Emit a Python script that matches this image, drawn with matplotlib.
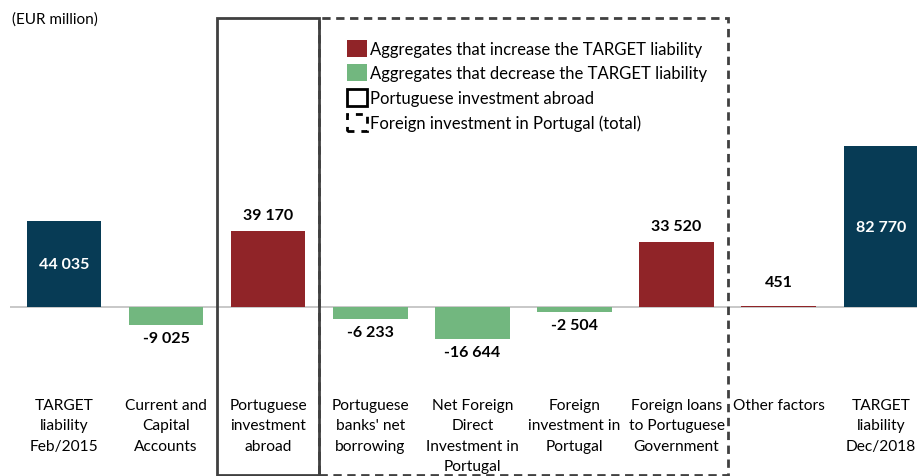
import matplotlib
matplotlib.use("Agg")
import matplotlib.pyplot as plt
from matplotlib.patches import Rectangle, Patch

plt.rcParams['font.family'] = ['Lato', 'DejaVu Sans']

categories = ["TARGET\nliability\nFeb/2015", "Current and\nCapital\nAccounts",
              "Portuguese\ninvestment\nabroad", "Portuguese\nbanks' net\nborrowing",
              "Net Foreign\nDirect\nInvestment in\nPortugal", "Foreign\ninvestment in\nPortugal",
              "Foreign loans\nto Portuguese\nGovernment", "Other factors",
              "TARGET\nliability\nDec/2018"]
values = [44035, -9025, 39170, -6233, -16644, -2504, 33520, 451, 82770]
labels = ["44 035", "-9 025", "39 170", "-6 233", "-16 644", "-2 504", "33 520", "451", "82 770"]
kinds = ["total", "dec", "inc", "dec", "dec", "dec", "inc", "inc", "total"]

colors = {"total": "#073B55", "inc": "#902428", "dec": "#72B77F"}

W, H = 917, 477
fig = plt.figure(figsize=(W / 100, H / 100), dpi=100)
ax = fig.add_axes([0, 0, 1, 1])
ax.axis('off')

# pixel mapping
px_per_cat = 102.1
x0_px = 64
zero_px = 308
px_per_unit = 1.945 / 1000
xl = -x0_px / px_per_cat
xr = 8 + (W - (x0_px + 8 * px_per_cat)) / px_per_cat
yb = -(H - zero_px) / px_per_unit
yt = zero_px / px_per_unit
ax.set_xlim(xl, xr)
ax.set_ylim(yb, yt)

def ypx(p):  # pixel from top -> data
    return (zero_px - p) / px_per_unit

x = list(range(len(categories)))
ax.bar(x, values, width=0.73, color=[colors[k] for k in kinds], zorder=2)
ax.hlines(0, -0.53, xr, color="#BFBFBF", lw=1.2, zorder=1)

vfs = 11.5
for i, (v, lab, k) in enumerate(zip(values, labels, kinds)):
    if k == "total":
        ax.text(i, v / 2, lab, color="white", ha="center", va="center",
                fontsize=vfs, fontweight="bold")
    elif v >= 0:
        off = 17 if v < 5000 else 9
        ax.annotate(lab, (i, v), xytext=(0, off), textcoords="offset pixels",
                    ha="center", va="bottom", fontsize=vfs, fontweight="bold")
    else:
        ax.annotate(lab, (i, v), xytext=(0, -6), textcoords="offset pixels",
                    ha="center", va="top", fontsize=vfs, fontweight="bold")

tfs = 11.2
for i, c in enumerate(categories):
    ax.text(i, ypx(399), c, ha="center", va="top", fontsize=tfs, linespacing=1.57)

ax.text(-0.51, ypx(20), "(EUR million)", ha="left", va="center", fontsize=11)

# boxes
top = ypx(19)
bot = ypx(476)
ax.add_patch(Rectangle((1.5, bot), 1.0, top - bot, fill=False, ec="#404040", lw=2, zorder=3))
ax.add_patch(Rectangle((2.5, bot), 4.0, top - bot, fill=False, ec="#404040", lw=2,
                       ls=(0, (3, 2)), zorder=3))

handles = [Patch(facecolor=colors["inc"], edgecolor="none"),
           Patch(facecolor=colors["dec"], edgecolor="none"),
           Patch(facecolor="none", edgecolor="black", lw=2),
           Patch(facecolor="none", edgecolor="black", lw=2, ls=(0, (2.5, 2.5)))]
leg_labels = ["Aggregates that increase the TARGET liability",
              "Aggregates that decrease the TARGET liability",
              "Portuguese investment abroad",
              "Foreign investment in Portugal (total)"]
leg = ax.legend(handles, leg_labels, loc="upper left", bbox_to_anchor=(340 / W, 1 - 34 / H),
                frameon=False, fontsize=12, handlelength=1.2, handleheight=1.2,
                handletextpad=0.2, labelspacing=0.45, borderaxespad=0)

fig.savefig("out.png", dpi=100)
